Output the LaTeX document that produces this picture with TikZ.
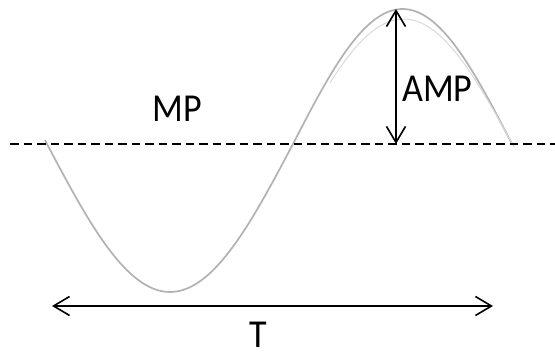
\documentclass[tikz,border=0pt]{standalone}
\usepackage{fontspec}
\setmainfont{Carlito}
\usetikzlibrary{arrows.meta}
\begin{document}
\begin{tikzpicture}[x=1pt,y=-1pt,
  wave/.style={draw=black!30, line width=1.7pt},
  midline/.style={draw=black, line width=2.3pt, dash pattern=on 8.5pt off 5pt},
  dimarrow/.style={draw=black, line width=1.6pt, {Straight Barb[length=16pt,width=19pt,line width=1.6pt]}-{Straight Barb[length=16pt,width=19pt,line width=1.6pt]}},
  lbl/.style={font=\fontsize{36}{40}\selectfont, inner sep=0pt, text=black}]
\useasboundingbox (0,0) rectangle (555,352);
% sine wave
\draw[wave] plot[domain=45:293, samples=80, smooth] (\x, {144 + 148*sin(0.7317*(\x-47))});
\draw[wave] plot[domain=293:512, samples=80, smooth] (\x, {144 - 135*sin(0.8219*(\x-293))});
\draw[draw=black!15, line width=1pt] plot[domain=330:514, samples=60, smooth] (\x, {147 - 128*sin(0.8145*(\x-293))});
% mid line
\coordinate (ml) at (10,144);
\coordinate (mr) at (555,144);
\draw[midline] (ml) -- (mr);
% amplitude
\coordinate (at) at (396,9);
\coordinate (ab) at (396,144);
\draw[dimarrow] (at) -- (ab);
% period
\coordinate (tl) at (52,306);
\coordinate (tr) at (493,306);
\draw[dimarrow] (tl) -- (tr);
% labels
\node[lbl, anchor=base] (mp) at (177,122) {\scalebox{1}[1.1]{MP}};
\node[lbl, anchor=base west] (amp) at (402,102) {\scalebox{1}[1.1]{AMP}};
\node[lbl, anchor=base] (t) at (258,348) {\scalebox{1}[1.1]{T}};
\end{tikzpicture}
\end{document}
